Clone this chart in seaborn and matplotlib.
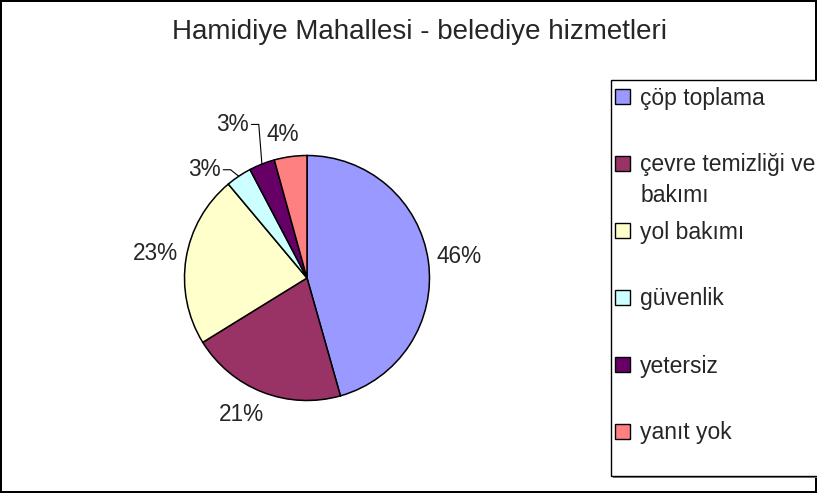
import numpy as np
import matplotlib
matplotlib.use("Agg")
import matplotlib.pyplot as plt
import seaborn as sns
from matplotlib.patches import Rectangle

# data
categories = ["çöp toplama", "çevre temizliği ve", "yol bakımı",
              "güvenlik", "yetersiz", "yanıt yok"]
wrap_line = "bakımı"   # second line of the 2nd legend entry
values = [45.6, 20.6, 22.7, 3.4, 3.4, 4.3]
colors = ["#9999FF", "#993366", "#FFFFCC", "#CCFFFF", "#660066", "#FF8080"]
title = "Hamidiye Mahallesi - belediye hizmetleri"

# label placement (radius, angle nudge in degrees, leader line or not)
label_r = [1.25, 1.24, 1.25, 1.13, 1.34, 1.19]
label_shift = [0, -4.5, 0, 4.7, -0.9, 2.0]
leader = [False, False, False, True, True, False]

sns.set_theme(style="white")
plt.rcParams["font.family"] = ["Liberation Sans", "DejaVu Sans"]

W, H = 817, 493
fig = plt.figure(figsize=(W / 100, H / 100), dpi=100)
fig.patch.set_facecolor("white")
fig.patch.set_edgecolor("black")
fig.patch.set_linewidth(1.5)

cx, cy, rad = 307, 278, 122.5
ax = fig.add_axes([(cx - rad) / W, (H - cy - rad) / H, 2 * rad / W, 2 * rad / H])
wedges, _ = ax.pie(values, colors=colors, startangle=90, counterclock=False,
                   wedgeprops=dict(edgecolor="black", linewidth=1.1))
ax.set_xlim(-1, 1)
ax.set_ylim(-1, 1)
ax.set_aspect("equal", adjustable="box")
ax.axis("off")

pct_size = 16.3
total = sum(values)
for i, w in enumerate(wedges):
    mid = (w.theta1 + w.theta2) / 2
    th = np.deg2rad(mid + label_shift[i])
    x, y = label_r[i] * np.cos(th), label_r[i] * np.sin(th)
    txt = f"{values[i] / total * 100:.0f}%"
    if leader[i]:
        ax.text(x, y, txt, ha="right", va="center", fontsize=pct_size, clip_on=False)
        ex, ey = np.cos(np.deg2rad(mid)), np.sin(np.deg2rad(mid))
        ax.plot([x + 0.02, x + 0.08, ex], [y, y, ey], color="black",
                linewidth=0.8, clip_on=False)
    else:
        ax.text(x, y, txt, ha="center", va="center", fontsize=pct_size, clip_on=False)

fig.text(419 / W, 1 - 32 / H, title, ha="center", va="center", fontsize=20)

# legend box (runs past the right edge like the original)
lx, ltop, lbot = 611, 80, 476
shadow = Rectangle(((lx + 2) / W, (H - lbot - 2) / H), (W - lx) / W, (lbot - ltop) / H,
                   transform=fig.transFigure, facecolor="#808080", edgecolor="none",
                   zorder=0)
box = Rectangle((lx / W, (H - lbot) / H), (W - lx + 10) / W, (lbot - ltop) / H,
                transform=fig.transFigure, facecolor="white", edgecolor="black",
                linewidth=1.0, zorder=1)
fig.patches.extend([shadow, box])

leg_size = 16.5
leg = fig.legend(wedges, categories, loc="upper left",
                 bbox_to_anchor=(615 / W, 1 - 86.5 / H),
                 frameon=False, fontsize=leg_size, handlelength=0.65,
                 handleheight=0.65, handletextpad=0.45, labelspacing=1.92,
                 borderpad=0, borderaxespad=0)
for h in leg.legend_handles:
    h.set_edgecolor("black")
    h.set_linewidth(1.0)

# wrapped second line of the long legend label, under its first line
fig.canvas.draw()
bb = leg.get_texts()[1].get_window_extent()
fig.text(bb.x0 / W, (bb.y0 + bb.y1) / 2 / H - 30 / H, wrap_line,
         ha="left", va="center", fontsize=leg_size)

fig.savefig("out.png", dpi=100)
